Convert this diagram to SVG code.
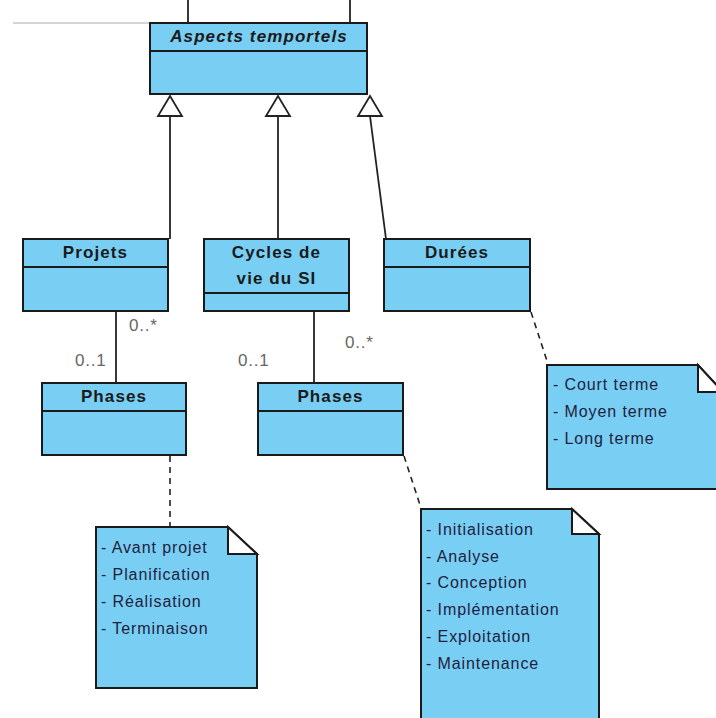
<svg xmlns="http://www.w3.org/2000/svg" width="716" height="718" viewBox="0 0 716 718">
<style>
.box{fill:#79CEF3;stroke:#1a1a1a;stroke-width:2}
.sep{stroke:#1a1a1a;stroke-width:2}
.ln{stroke:#222;stroke-width:1.8;fill:none}
.dash{stroke:#222;stroke-width:1.6;fill:none;stroke-dasharray:6,5}
.tri{fill:#fff;stroke:#222;stroke-width:1.8}
.title{font-family:"Liberation Sans",Arial,sans-serif;font-weight:bold;font-size:17px;letter-spacing:1.1px;fill:#1a1a1a;text-anchor:middle}
.mult{font-family:"Liberation Sans",Arial,sans-serif;font-size:17px;letter-spacing:0.8px;fill:#666}
.note{font-family:"Liberation Sans",Arial,sans-serif;font-size:16px;letter-spacing:0.9px;fill:#1e2240}
.fold{fill:#fff;stroke:#1a1a1a;stroke-width:2}
</style>
<line x1="13" y1="23" x2="150" y2="23" stroke="#aaa" stroke-width="1"/>
<g id="connectors">
<line class="ln" x1="188" y1="0" x2="188" y2="23"/>
<line class="ln" x1="350" y1="0" x2="350" y2="23"/>
<line class="ln" x1="170" y1="116" x2="170" y2="239"/>
<polygon class="tri" points="170,96 158,116 182,116"/>
<line class="ln" x1="278" y1="116" x2="278" y2="239"/>
<polygon class="tri" points="278,96 266,116 290,116"/>
<line class="ln" x1="370" y1="116" x2="386" y2="239"/>
<polygon class="tri" points="370,96 358,116 382,116"/>
<line class="ln" x1="116" y1="311" x2="116" y2="383"/>
<line class="ln" x1="314" y1="311" x2="314" y2="383"/>
<line class="dash" x1="170" y1="456" x2="170" y2="526"/>
<line class="dash" x1="404" y1="456" x2="421" y2="508"/>
<line class="dash" x1="531" y1="312" x2="548" y2="364"/>
<text class="mult" x="129" y="331">0..*</text>
<text class="mult" x="75" y="366">0..1</text>
<text class="mult" x="238" y="366">0..1</text>
<text class="mult" x="345" y="348">0..*</text>
</g>
<g id="aspects">
<rect class="box" x="150" y="23" width="217" height="71"/>
<line class="sep" x1="150" y1="51" x2="367" y2="51"/>
<text class="title" x="259" y="42" font-style="italic" letter-spacing="1.5">Aspects temportels</text>
</g>
<g id="projets">
<rect class="box" x="23" y="239" width="145" height="72"/>
<line class="sep" x1="23" y1="267" x2="168" y2="267"/>
<text class="title" x="95.5" y="258">Projets</text>
</g>
<g id="cycles">
<rect class="box" x="204" y="239" width="145" height="72"/>
<line class="sep" x1="204" y1="293" x2="349" y2="293"/>
<text class="title" x="276.5" y="258">Cycles de</text>
<text class="title" x="276.5" y="284">vie du SI</text>
</g>
<g id="durees">
<rect class="box" x="384" y="239" width="146" height="72"/>
<line class="sep" x1="384" y1="267" x2="530" y2="267"/>
<text class="title" x="457" y="258">Durées</text>
</g>
<g id="phases1">
<rect class="box" x="42" y="383" width="144" height="72"/>
<line class="sep" x1="42" y1="411" x2="186" y2="411"/>
<text class="title" x="114" y="402">Phases</text>
</g>
<g id="phases2">
<rect class="box" x="258" y="383" width="145" height="72"/>
<line class="sep" x1="258" y1="411" x2="403" y2="411"/>
<text class="title" x="330.5" y="402">Phases</text>
</g>
<g id="note-durees">
<path class="box" d="M547,365 H698 L723,392 V489 H547 Z"/>
<path class="fold" d="M698,365 V392 H723 Z"/>
<text class="note" x="553" y="390">- Court terme</text>
<text class="note" x="553" y="417">- Moyen terme</text>
<text class="note" x="553" y="444">- Long terme</text>
</g>
<g id="note-phases1">
<path class="box" d="M96,527 H228 L257,554 V688 H96 Z"/>
<path class="fold" d="M228,527 V554 H257 Z"/>
<text class="note" x="101" y="553">- Avant projet</text>
<text class="note" x="101" y="580">- Planification</text>
<text class="note" x="101" y="607">- Réalisation</text>
<text class="note" x="101" y="634">- Terminaison</text>
</g>
<g id="note-phases2">
<path class="box" d="M421,509 H572 L599,534 V730 H421 Z"/>
<path class="fold" d="M572,509 V534 H599 Z"/>
<text class="note" x="426" y="535">- Initialisation</text>
<text class="note" x="426" y="562">- Analyse</text>
<text class="note" x="426" y="588">- Conception</text>
<text class="note" x="426" y="615">- Implémentation</text>
<text class="note" x="426" y="642">- Exploitation</text>
<text class="note" x="426" y="669">- Maintenance</text>
</g>
</svg>
